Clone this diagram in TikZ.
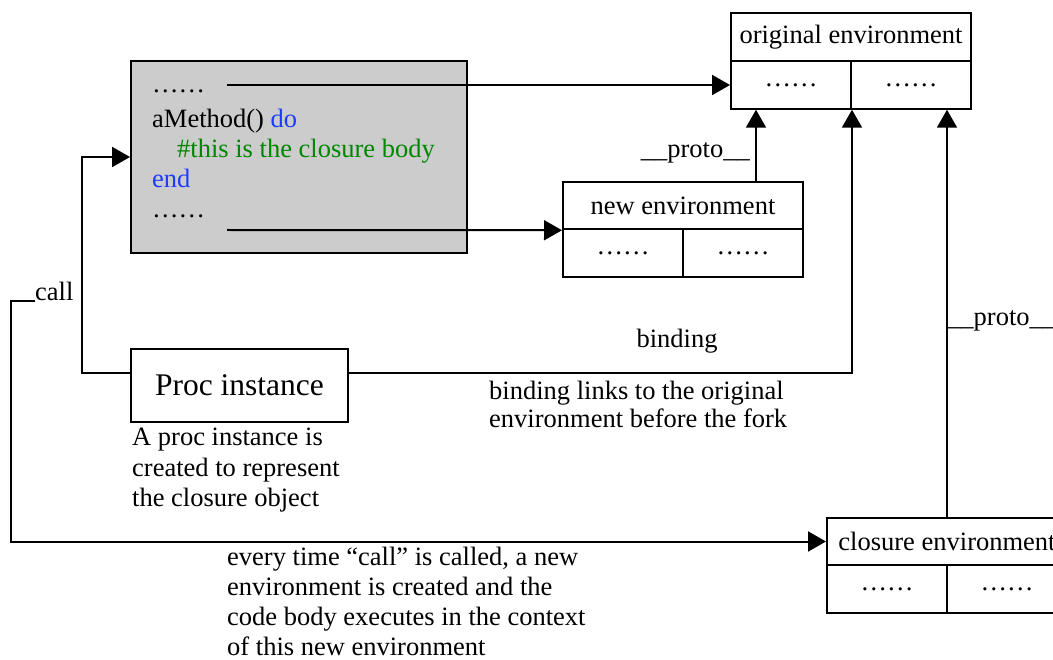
\documentclass[tikz,border=0pt]{standalone}
\usepackage{fontspec}
\setmainfont{Liberation Serif}
\usetikzlibrary{arrows.meta}
\definecolor{codeblue}{RGB}{30,60,255}
\definecolor{codegreen}{RGB}{0,135,0}
\definecolor{boxgray}{RGB}{204,204,204}
\begin{document}
\begin{tikzpicture}[x=1pt,y=-1pt,
  every node/.style={font=\fontsize{26.5}{30}\selectfont},
  conn/.style={line width=2pt},
  arr/.style={line width=2pt,-{Triangle[length=18pt,width=20pt]}},
  envhead/.style={draw,line width=2pt,minimum width=240pt,minimum height=47.5pt,inner sep=0pt},
  envcell/.style={draw,line width=2pt,minimum width=120pt,minimum height=47.5pt,inner sep=0pt},
  txt/.style={inner sep=0pt,anchor=base west},
]
\useasboundingbox (0,0) rectangle (1053,660);

% code box
\node[draw,line width=2pt,fill=boxgray,minimum width=336pt,minimum height=192pt,inner sep=0pt] (code) at (299,157) {};
\node[txt] (d1) at (152,93) {……};
\node[txt] (l2) at (152,128) {aMethod() {\color{codeblue}do}};
\node[txt,text=codegreen] (l3) at (177,158) {\#this is the closure body};
\node[txt,text=codeblue] (l4) at (152,188) {end};
\node[txt] (d2) at (152,218) {……};
\coordinate (s1) at (227,85);
\coordinate (s2) at (227,230);

% original environment
\node[envhead] (oh) at (851,37) {original environment};
\node[envcell] (oc1) at (791,85) {……};
\node[envcell] (oc2) at (911,85) {……};

% new environment
\node[envhead] (nh) at (683,205.5) {new environment};
\node[envcell] (nc1) at (623,253) {……};
\node[envcell] (nc2) at (743,253) {……};

% closure environment
\node[envhead] (ch) at (947,541.5) {closure environment};
\node[envcell] (cc1) at (887,589) {……};
\node[envcell] (cc2) at (1007,589) {……};

% proc instance
\node[draw,line width=2pt,minimum width=217pt,minimum height=73pt,inner sep=0pt,
      font=\fontsize{31.5}{34}\selectfont] (proc) at (239.5,385.5) {Proc instance};

% labels
\node[txt,anchor=base east] (pr1) at (750,158) {\_\_proto\_\_};
\node[txt] (pr2) at (947,326) {\_\_proto\_\_};
\node[txt] (call) at (35,301) {call};
\node[inner sep=0pt,anchor=base] (bind) at (677,348) {binding};
\node[txt] (b1) at (489,400) {binding links to the original};
\node[txt] (b2) at (489,428) {environment before the fork};
\node[txt] (p1) at (132,446) {A proc instance is};
\node[txt] (p2) at (132,476) {created to represent};
\node[txt] (p3) at (132,506) {the closure object};
\node[txt] (e1) at (227,565) {every time “call” is called, a new};
\node[txt] (e2) at (227,595) {environment is created and the};
\node[txt] (e3) at (227,625) {code body executes in the context};
\node[txt] (e4) at (227,655) {of this new environment};

% connectors
\draw[arr] (s1) -- (oc1.west);
\draw[arr] (s2) -- (nh.south west);
\draw[arr] ([xshift=-48pt]nh.north east) -- ([xshift=-48pt]nh.north east |- oc1.south);
\draw[arr] ([yshift=12.5pt]proc.west) -- ++(-48,0) |- (code.west);
\draw[arr] ([yshift=12.5pt]proc.east) -| (oc1.south east);
\draw[arr] (call.base west) -- ++(-24,0) |- (ch.west);
\draw[arr] (ch.north) -- (ch.north |- oc2.south);
\end{tikzpicture}
\end{document}
